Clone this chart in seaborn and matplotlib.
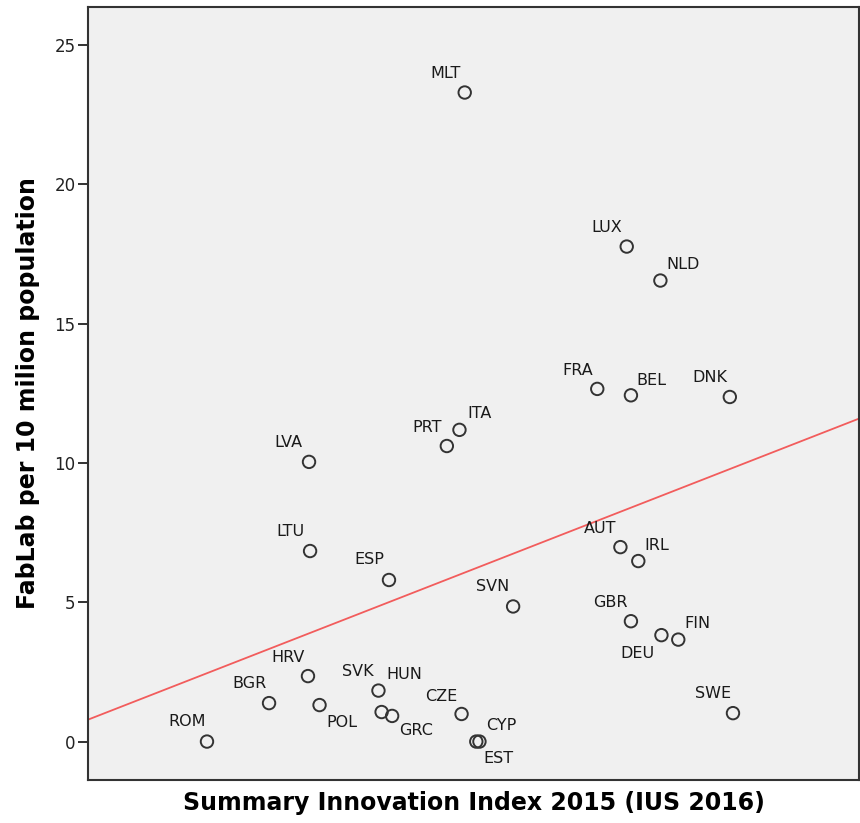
import numpy as np
import pandas as pd
import seaborn as sns
import matplotlib.pyplot as plt

countries = ['MLT', 'LUX', 'NLD', 'FRA', 'BEL', 'DNK', 'ITA', 'PRT', 'LVA', 'LTU',
             'ESP', 'AUT', 'IRL', 'SVN', 'GBR', 'DEU', 'FIN', 'HRV', 'SVK', 'HUN',
             'BGR', 'POL', 'GRC', 'CZE', 'CYP', 'EST', 'ROM', 'SWE']
sii = [0.445, 0.599, 0.631, 0.571, 0.603, 0.697, 0.440, 0.428, 0.297, 0.298,
       0.373, 0.593, 0.610, 0.491, 0.603, 0.632, 0.648, 0.296, 0.363, 0.366,
       0.259, 0.307, 0.376, 0.442, 0.456, 0.459, 0.200, 0.700]
fablab = [23.30, 17.77, 16.55, 12.66, 12.43, 12.37, 11.19, 10.61, 10.04, 6.84,
          5.80, 6.98, 6.48, 4.85, 4.32, 3.82, 3.66, 2.35, 1.83, 1.06,
          1.38, 1.31, 0.92, 0.99, 0.0, 0.0, 0.0, 1.02]
# label offsets in pixels (dx, dy) from the point
label_dx = [-19, -20, 23, -20, 20, -20, 20, -20, -21, -20,
            -20, -20, 18, -20, -21, -24, 19, -20, -21, 23,
            -20, 22, 24, -20, 25, 19, -20, -20]
label_dy = [19, 19, 16, 18, 15, 19, 16, 19, 19, 20,
            20, 19, 16, 20, 19, -18, 16, 19, 19, 38,
            20, -17, -15, 17, 16, -17, 20, 20]

data = pd.DataFrame({'SII': sii, 'FabLab': fablab, 'Country': countries})

fig = plt.figure(figsize=(8.6, 8.23), dpi=100)
ax = fig.add_axes([88 / 860, 1 - 780 / 823, 771 / 860, 773 / 823])
ax.set_facecolor('#f0f0f0')
ax.set_xlim(0.0869, 0.8198)
ax.set_ylim(-1.38, 26.37)

sns.regplot(data=data, x='SII', y='FabLab', scatter=False, ci=None, truncate=False,
            line_kws={'color': '#f25c5c', 'lw': 1.3}, ax=ax)
sns.scatterplot(data=data, x='SII', y='FabLab', marker='o', s=80,
                facecolor='none', edgecolor='#333333', linewidth=1.4, ax=ax, zorder=3)

for c, xv, yv, dx, dy in zip(countries, sii, fablab, label_dx, label_dy):
    ax.annotate(c, (xv, yv), xytext=(dx, dy), textcoords='offset pixels',
                ha='center', va='center', fontsize=11.5, color='#1a1a1a')

ax.set_xticks([])
ax.set_yticks([0, 5, 10, 15, 20, 25])
ax.tick_params(axis='y', length=7, width=1.3, labelsize=12, colors='#222222', pad=2)
for sp in ax.spines.values():
    sp.set_color('#333333')
    sp.set_linewidth(1.5)

ax.set_xlabel('Summary Innovation Index 2015 (IUS 2016)', fontsize=17, fontweight='bold',
              labelpad=8)
ax.set_ylabel('FabLab per 10 milion population', fontsize=17, fontweight='bold', labelpad=10)

fig.savefig('out.png', dpi=100)
